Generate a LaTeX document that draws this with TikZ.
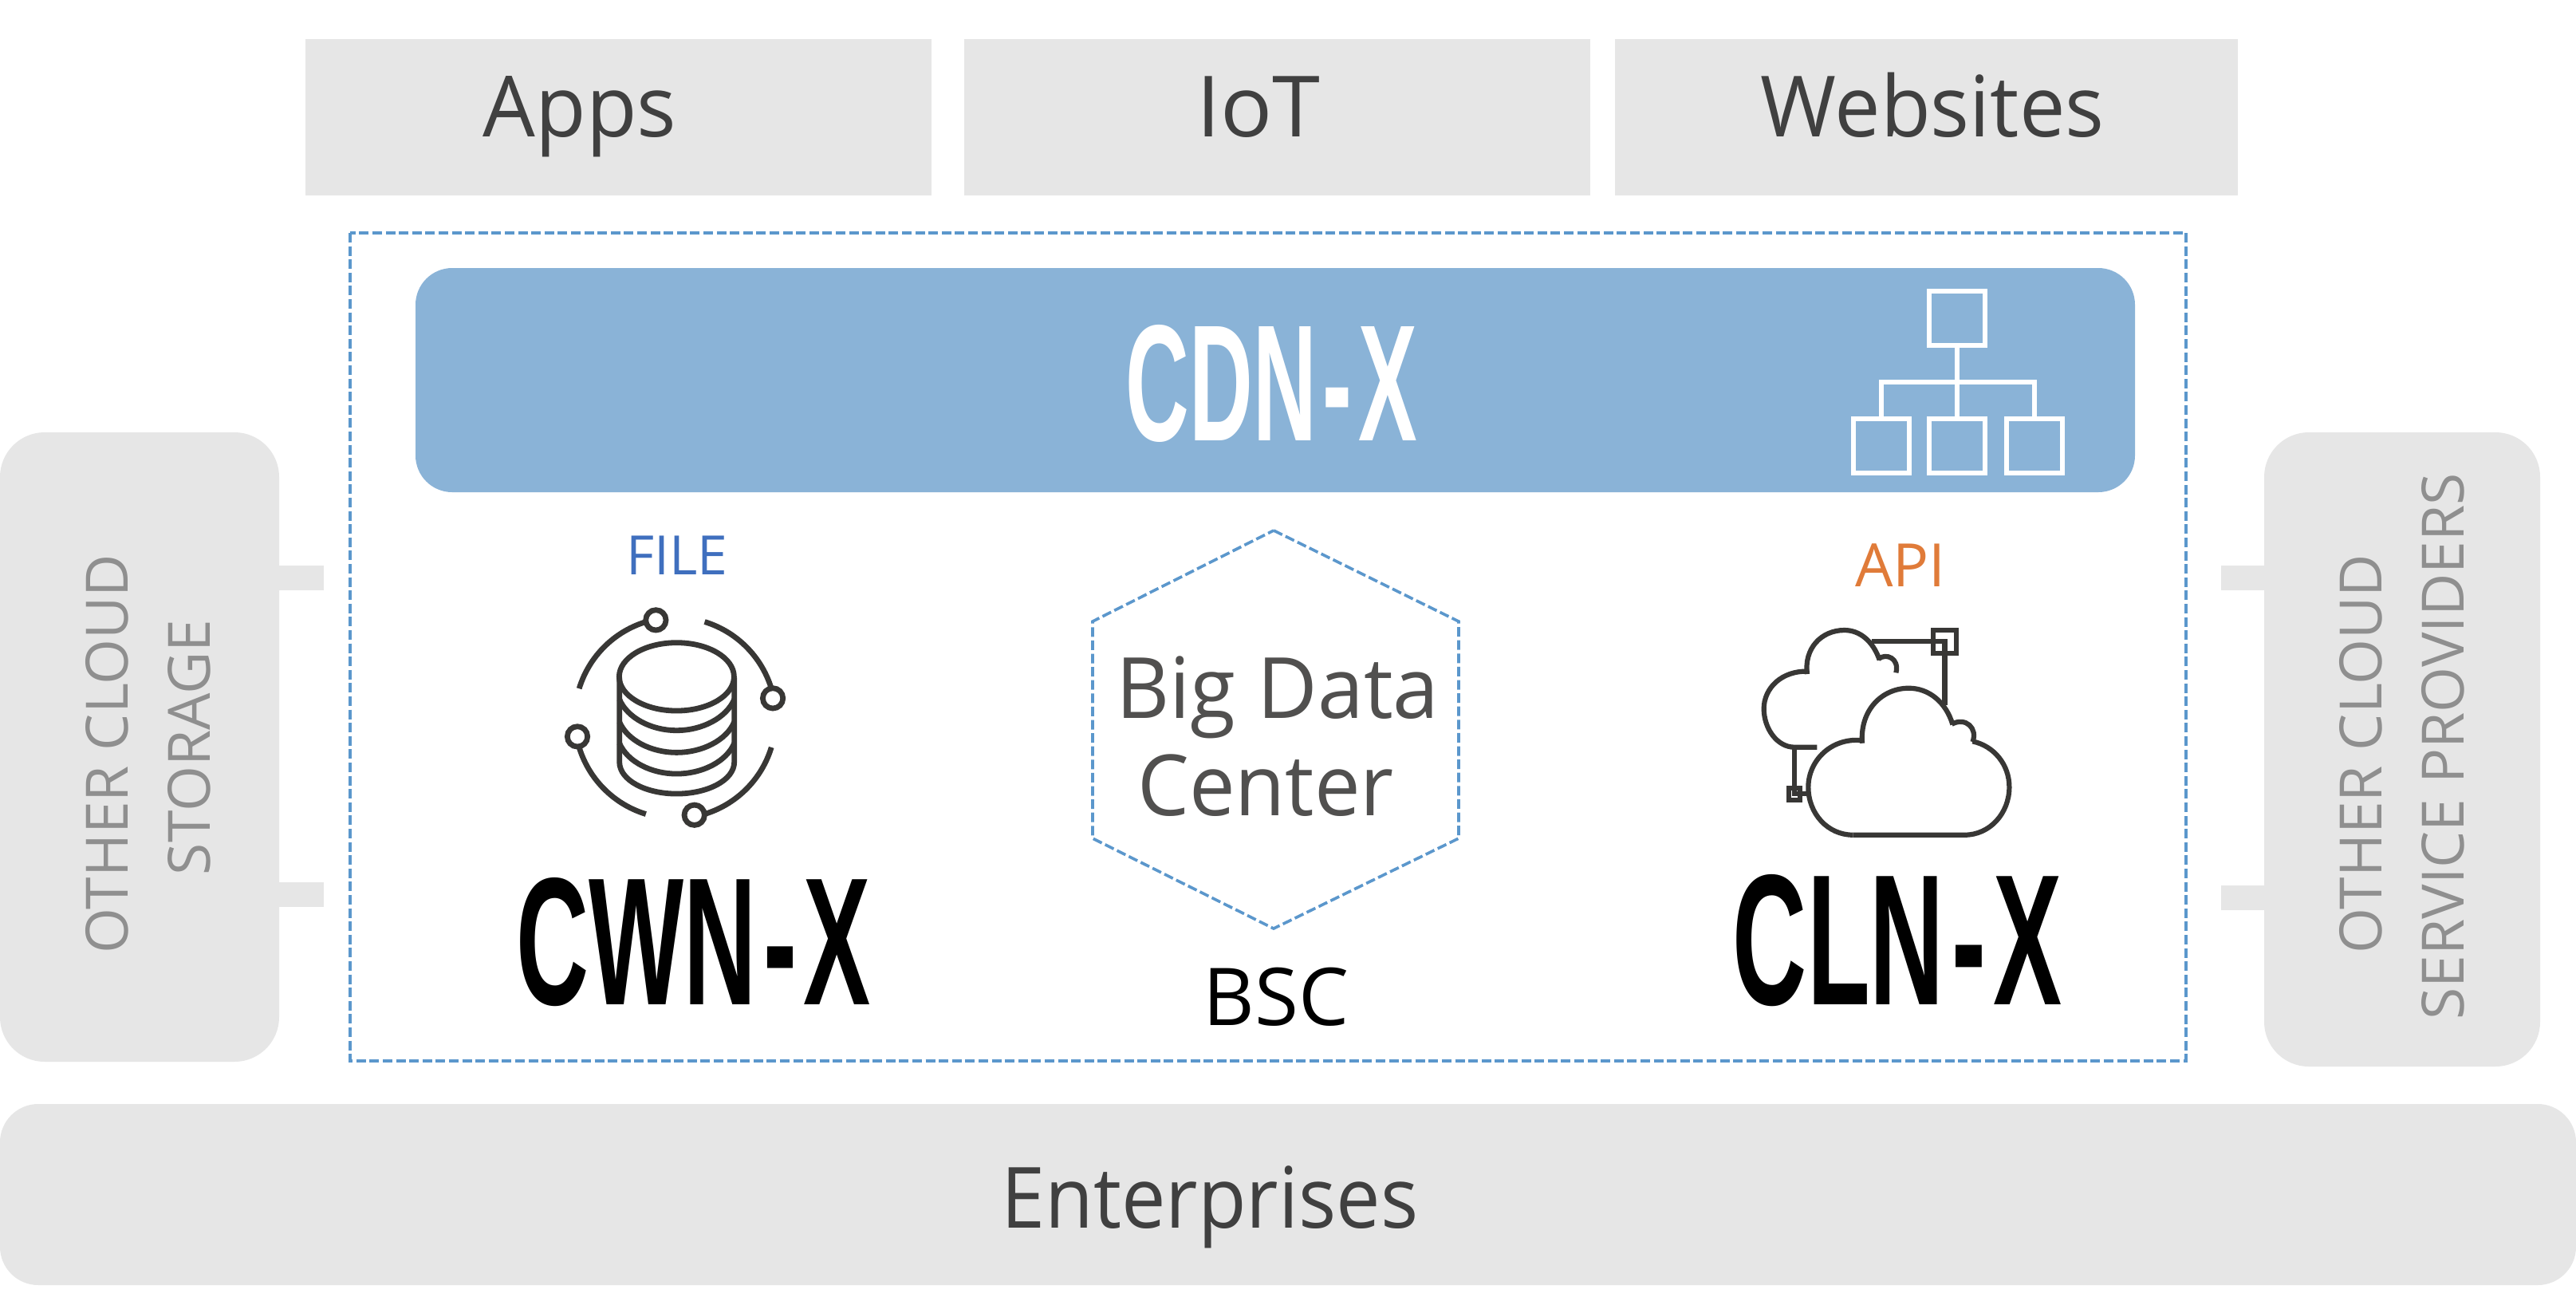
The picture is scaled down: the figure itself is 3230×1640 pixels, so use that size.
\documentclass[tikz,border=0pt]{standalone}
\usepackage{fontspec}
\usepackage{graphicx}
\setmainfont{Open Sans}
\newfontfamily\headfont{Liberation Sans}[UprightFont=* Bold]
\definecolor{boxgray}{HTML}{E6E6E6}
\definecolor{barblue}{HTML}{8AB3D7}
\definecolor{dashblue}{HTML}{5B97CC}
\definecolor{filecol}{HTML}{3F6FBE}
\definecolor{apicol}{HTML}{E07B39}
\definecolor{maintext}{HTML}{404040}
\definecolor{midtext}{HTML}{51504F}
\definecolor{sidetext}{HTML}{8F8F8F}
\definecolor{iconcol}{HTML}{383735}
\newcommand{\headtext}[3]{\resizebox{#1pt}{#2pt}{\headfont #3}}
\newcommand{\narrowed}[2]{\scalebox{#1}[1]{#2}}
\newcommand{\hyph}{\kern.07em-\kern.07em}
\tikzset{
  x=0.5pt,y=-0.5pt,
  tile/.style={fill=boxgray,draw=none},
  label/.style={inner sep=0pt,outer sep=0pt,anchor=center},
  big/.style={inner sep=0pt,outer sep=0pt,anchor=base,text=maintext,font=\fontsize{53}{60}\selectfont},
  mid/.style={inner sep=0pt,outer sep=0pt,anchor=base,text=midtext,font=\fontsize{53}{56}\selectfont},
  sidelabel/.style={label,text=sidetext,rotate=90,font=\fontsize{36.6}{40}\selectfont},
  dashline/.style={draw=dashblue,line width=1.8pt,dash pattern=on 6pt off 2.3pt},
  ico/.style={draw=iconcol,line width=3.4pt},
  icothin/.style={draw=iconcol,line width=3.1pt,line cap=butt},
  org/.style={draw=white,line width=3pt},
}
\begin{document}
\begin{tikzpicture}
\useasboundingbox (0,0) rectangle (3230,1640);
\fill[white] (0,0) rectangle (3230,1640);
% top tiles
\fill[tile] (383,49) rectangle (1168,245);
\fill[tile] (1209,49) rectangle (1994,245);
\fill[tile] (2025,49) rectangle (2806,245);
\node[big] (apps) at (727,171) {\narrowed{0.98}{Apps}};
\node[big] (iot) at (1578,171) {\narrowed{1.02}{IoT}};
\node[big] (web) at (2423,171) {\narrowed{0.968}{Websites}};
% side tiles
\fill[tile] (350,709) rectangle (406,740);
\fill[tile] (350,1106) rectangle (406,1137);
\fill[tile] (2785,709) rectangle (2845,740);
\fill[tile] (2785,1110) rectangle (2845,1141);
\fill[tile,rounded corners=28pt] (0,542) rectangle (350,1331);
\fill[tile,rounded corners=28pt] (2839,542) rectangle (3185,1337);
\node[sidelabel] (oc1) at (134,945) {OTHER CLOUD};
\node[sidelabel] (oc2) at (237,937) {STORAGE};
\node[sidelabel] (os1) at (2960,945) {OTHER CLOUD};
\node[sidelabel] (os2) at (3063,936) {SERVICE PROVIDERS};
% bottom bar
\fill[tile,rounded corners=24pt] (0,1384) rectangle (3230,1611);
\node[big] (ent) at (1517,1539) {\narrowed{0.934}{Enterprises}};
% dashed frame
\draw[dashline] (439,292) rectangle (2741,1330);
% CDN bar
\fill[barblue,rounded corners=23pt] (521,336) rectangle (2677,617);
\node[label,text=white] (cdn) at (1594.5,480.5) {\headtext{182.5}{72.5}{CDN\hyph X}};
% org icon
\draw[org] (2419,365) rectangle (2489,433);
\draw[org] (2324,525) rectangle (2394,593);
\draw[org] (2419,525) rectangle (2489,593);
\draw[org] (2516,525) rectangle (2586,593);
\draw[org] (2454,436) -- (2454,522);
\draw[org] (2359,522) -- (2359,479) -- (2551,479) -- (2551,522);
% FILE
\node[label,text=filecol,font=\fontsize{34}{38}\selectfont] (file) at (849,696) {FILE};
\begin{scope}[shift={(640,720)},x=0.1667pt,y=-0.1667pt]
  \draw[ico] (410,388) -- (410,705) .. controls (410,775) and (510,825) .. (625,825) .. controls (740,825) and (842,775) .. (842,705) -- (842,388);
  \draw[ico] (625,385) ellipse [x radius=216,y radius=128];
  \draw[ico] (410,470) .. controls (440,540) and (530,587) .. (625,587) .. controls (720,587) and (812,540) .. (842,470);
  \draw[ico] (410,555) .. controls (440,625) and (530,670) .. (625,670) .. controls (720,670) and (812,625) .. (842,555);
  \draw[ico] (410,635) .. controls (440,705) and (530,750) .. (625,750) .. controls (720,750) and (812,705) .. (842,635);
  \draw[ico] (547,172) circle [radius=38];
  \draw[ico] (987,466) circle [radius=38];
  \draw[ico] (252,610) circle [radius=38];
  \draw[ico] (692,905) circle [radius=38];
  \draw[ico,smooth,samples=30,domain=107:163] plot ({620+378*cos(\x)},{540-378*sin(\x)});
  \draw[ico,smooth,samples=30,domain=17:73] plot ({620+378*cos(\x)},{540-378*sin(\x)});
  \draw[ico,smooth,samples=30,domain=197:253] plot ({620+378*cos(\x)},{540-378*sin(\x)});
  \draw[ico,smooth,samples=30,domain=-73:-17] plot ({620+378*cos(\x)},{540-378*sin(\x)});
\end{scope}
\node[label,text=black] (cwn) at (869.5,1181.5) {\headtext{222.5}{79.5}{CWN\hyph X}};
% hexagon
\draw[dashline] (1597,665) -- (1829,779) -- (1829,1051) -- (1597,1164) -- (1370,1051) -- (1370,779) -- cycle;
\node[mid] (bigdata) at (1602,900) {\narrowed{0.98}{Big Data}};
\node[mid] (center) at (1587,1022) {\narrowed{0.97}{Center}};
\node[label,text=black,font=\fontsize{50}{54}\selectfont] (bsc) at (1600,1250) {BSC};
% API
\node[label,text=apicol,font=\fontsize{37.5}{40}\selectfont] (api) at (2383,709) {API};
\begin{scope}[shift={(2160,740)},x=0.1667pt,y=-0.1667pt]
  \draw[icothin] (490,920) -- (910,920) .. controls (1005,920) and (1078,838) .. (1078,740) .. controls (1078,655) and (1020,585) .. (940,568);
  \draw[icothin] (940,570) .. controls (960,520) and (915,475) .. (862,503);
  \draw[icothin] (865,505) .. controls (840,420) and (775,368) .. (700,368) .. controls (600,368) and (515,450) .. (525,575);
  \draw[icothin] (530,565) .. controls (410,550) and (322,640) .. (322,740) .. controls (322,840) and (395,920) .. (490,920);
  \draw[icothin] (355,590) -- (270,590) .. controls (205,590) and (155,520) .. (155,445) .. controls (155,370) and (220,300) .. (325,305);
  \draw[icothin] (318,315) .. controls (305,220) and (370,150) .. (458,150) .. controls (515,150) and (565,190) .. (590,262);
  \draw[icothin] (586,258) .. controls (615,235) and (665,255) .. (652,310);
  \draw[icothin] (560,193) -- (835,193) -- (835,432);
  \draw[icothin] (792,150) rectangle (879,236);
  \draw[icothin] (270,590) -- (270,765) -- (320,765);
  \draw[icothin] (249,744) rectangle (291,788);
\end{scope}
\node[label,text=black] (cln) at (2379,1179.5) {\headtext{206}{81.5}{CLN\hyph X}};
\end{tikzpicture}
\end{document}
